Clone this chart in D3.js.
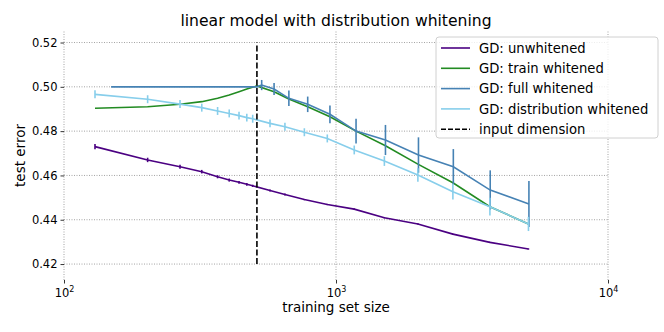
<!DOCTYPE html>
<html>
<head>
<meta charset="utf-8">
<script src="https://cdn.jsdelivr.net/npm/d3@7"></script>
<style>
  body { margin: 0; background: #fff; }
  svg text { font-family: "DejaVu Sans", sans-serif; fill: #000; }
</style>
</head>
<body>
<div id="chart"></div>
<script>
// data
const nShared = [130, 203, 267, 321, 367, 405, 440, 470, 494, 572, 649, 765, 929, 1167, 1506, 2000, 2690, 3680, 5100];
const unwhitened = [0.4730, 0.4670, 0.4639, 0.4617, 0.4594, 0.4579, 0.4569, 0.4560, 0.4553, 0.4532, 0.4514, 0.4491, 0.4469, 0.4448, 0.4409, 0.4381, 0.4335, 0.4298, 0.4268];
const unwhitenedErr = [0.0012, 0.0010, 0.0009, 0.0008, 0.0007, 0.0007, 0.0006, 0.0006, 0.0005, 0.0004, 0.0004, 0.0003, 0.0003, 0.0003, 0.0003, 0.0003, 0.0003, 0.0003, 0.0003];
const distWhitened = [0.4966, 0.4944, 0.4922, 0.4906, 0.4891, 0.4880, 0.4870, 0.4861, 0.4856, 0.4835, 0.4820, 0.4795, 0.4767, 0.4715, 0.4665, 0.4602, 0.4526, 0.4459, 0.4381];
const distWhitenedErr = [0.0018, 0.0018, 0.0018, 0.0018, 0.0018, 0.0018, 0.0018, 0.0018, 0.0018, 0.0018, 0.0018, 0.0018, 0.0018, 0.0020, 0.0022, 0.0030, 0.0035, 0.0040, 0.0032];

const nTrain = [130, 203, 267, 321, 367, 405, 440, 470, 512, 592, 671, 787, 950, 1185, 1520, 2000, 2690, 3680, 5100];
const trainWhitened = [0.4903, 0.4910, 0.4921, 0.4933, 0.4948, 0.4963, 0.4978, 0.4990, 0.5004, 0.4978, 0.4945, 0.4910, 0.4865, 0.4800, 0.4734, 0.4651, 0.4567, 0.4459, 0.4381];

const nFull = [149, 203, 267, 321, 367, 405, 440, 470, 512, 533, 592, 671, 787, 950, 1185, 1520, 2010, 2700, 3690, 5120];
const fullWhitened = [0.5000, 0.5000, 0.5000, 0.5000, 0.5000, 0.5000, 0.5000, 0.5000, 0.5000, 0.5008, 0.4990, 0.4948, 0.4921, 0.4876, 0.4800, 0.4760, 0.4692, 0.4639, 0.4534, 0.4471];
const fullWhitenedErr = [0, 0, 0, 0, 0, 0, 0, 0, 0, 0.0023, 0.0027, 0.0035, 0.0035, 0.0040, 0.0056, 0.0068, 0.0080, 0.0080, 0.0089, 0.0104];

const inputDim = 512;
const xTicks = [100, 1000, 10000];
const yTicks = [0.42, 0.44, 0.46, 0.48, 0.50, 0.52];

const series = [
	{ name: 'GD: unwhitened', color: '#4b0082', n: nShared, v: unwhitened, e: unwhitenedErr },
	{ name: 'GD: train whitened', color: '#228b22', n: nTrain, v: trainWhitened, e: null },
	{ name: 'GD: full whitened', color: '#4682b4', n: nFull, v: fullWhitened, e: fullWhitenedErr },
	{ name: 'GD: distribution whitened', color: '#87ceeb', n: nShared, v: distWhitened, e: distWhitenedErr }
];

const width = 664;
const height = 332;
const margin = { top: 31, right: 56, bottom: 52, left: 64 };

const svg = d3.select('#chart')
	.append('svg')
	.attr('width', width)
	.attr('height', height);

const x = d3.scaleLog()
	.domain([100, 10000])
	.range([margin.left, width - margin.right]);

const y = d3.scaleLinear()
	.domain([0.4128, 0.5252])
	.range([height - margin.bottom, margin.top]);

// grid
const grid = svg.append('g').attr('class', 'grid');

grid.selectAll('line.hgrid')
	.data(yTicks)
	.enter()
	.append('line')
	.attr('x1', x.range()[0])
	.attr('x2', x.range()[1])
	.attr('y1', (d) => y(d))
	.attr('y2', (d) => y(d))
	.attr('stroke', '#8c8c8c')
	.attr('stroke-width', 0.8)
	.attr('stroke-dasharray', '1,1.5');

grid.selectAll('line.vgrid')
	.data(xTicks)
	.enter()
	.append('line')
	.attr('x1', (d) => x(d))
	.attr('x2', (d) => x(d))
	.attr('y1', y.range()[0])
	.attr('y2', y.range()[1])
	.attr('stroke', '#8c8c8c')
	.attr('stroke-width', 0.8)
	.attr('stroke-dasharray', '1,1.5');

// axes (spines hidden, only ticks)
const xAxis = svg.append('g')
	.attr('transform', `translate(0,${height - margin.bottom})`)
	.call(d3.axisBottom(x).tickValues(xTicks).tickSize(3.5).tickFormat(''));

xAxis.select('.domain').remove();
xAxis.selectAll('.tick line').attr('stroke', '#000').attr('stroke-width', 0.8);

xAxis.selectAll('.tick')
	.append('text')
	.attr('y', 17)
	.attr('text-anchor', 'middle')
	.attr('font-size', 11.5)
	.attr('fill', '#000')
	.each(function (d) {
		const t = d3.select(this);
		t.append('tspan').text('10');
		t.append('tspan')
			.attr('dy', -5)
			.attr('font-size', 8)
			.text(Math.round(Math.log10(d)));
	});

const yAxis = svg.append('g')
	.attr('transform', `translate(${margin.left},0)`)
	.call(d3.axisLeft(y).tickValues(yTicks).tickSize(3.5).tickFormat(d3.format('.2f')));

yAxis.select('.domain').remove();
yAxis.selectAll('.tick line').attr('stroke', '#000').attr('stroke-width', 0.8);
yAxis.selectAll('.tick text')
	.attr('font-size', 11.5)
	.attr('font-family', '"DejaVu Sans", sans-serif')
	.attr('fill', '#000')
	.attr('x', -6.5);

// series lines + error bars
const line = d3.line()
	.x((d) => x(d[0]))
	.y((d) => y(d[1]));

series.forEach((s) => {
	const pts = s.n.map((n, i) => [n, s.v[i], s.e ? s.e[i] : 0]);
	const g = svg.append('g');

	g.append('path')
		.datum(pts)
		.attr('fill', 'none')
		.attr('stroke', s.color)
		.attr('stroke-width', 1.6)
		.attr('d', line);

	g.selectAll('line.err')
		.data(pts.filter((d) => d[2] > 0))
		.enter()
		.append('line')
		.attr('x1', (d) => x(d[0]))
		.attr('x2', (d) => x(d[0]))
		.attr('y1', (d) => y(d[1] - d[2]))
		.attr('y2', (d) => y(d[1] + d[2]))
		.attr('stroke', s.color)
		.attr('stroke-width', 1.6);
});

// input dimension
svg.append('line')
	.attr('x1', x(inputDim))
	.attr('x2', x(inputDim))
	.attr('y1', y(0.42))
	.attr('y2', y(0.52))
	.attr('stroke', '#000')
	.attr('stroke-width', 1.6)
	.attr('stroke-dasharray', '6,2.5');

// title and labels
svg.append('text')
	.attr('x', (x.range()[0] + x.range()[1]) / 2)
	.attr('y', 26)
	.attr('text-anchor', 'middle')
	.attr('font-size', 15.6)
	.text('linear model with distribution whitening');

svg.append('text')
	.attr('x', (x.range()[0] + x.range()[1]) / 2)
	.attr('y', 312)
	.attr('text-anchor', 'middle')
	.attr('font-size', 13.5)
	.text('training set size');

svg.append('text')
	.attr('transform', `translate(25,${(y.range()[0] + y.range()[1]) / 2}) rotate(-90)`)
	.attr('text-anchor', 'middle')
	.attr('font-size', 13.5)
	.text('test error');

// legend
const legendItems = series.map((s) => ({ name: s.name, color: s.color, dash: null }))
	.concat([{ name: 'input dimension', color: '#000', dash: '5,2' }]);

const legend = svg.append('g').attr('transform', 'translate(436,37)');

legend.append('rect')
	.attr('width', 222)
	.attr('height', 101)
	.attr('rx', 3)
	.attr('fill', 'rgba(255,255,255,0.8)')
	.attr('stroke', '#d0d0d0')
	.attr('stroke-width', 1);

const rows = legend.selectAll('g.row')
	.data(legendItems)
	.enter()
	.append('g')
	.attr('transform', (d, i) => `translate(0,${11 + i * 20.3})`);

rows.append('line')
	.attr('x1', 5)
	.attr('x2', 34)
	.attr('stroke', (d) => d.color)
	.attr('stroke-width', 1.6)
	.attr('stroke-dasharray', (d) => d.dash);

rows.append('text')
	.attr('x', 43)
	.attr('dy', '0.35em')
	.attr('font-size', 13.2)
	.text((d) => d.name);
</script>
</body>
</html>
